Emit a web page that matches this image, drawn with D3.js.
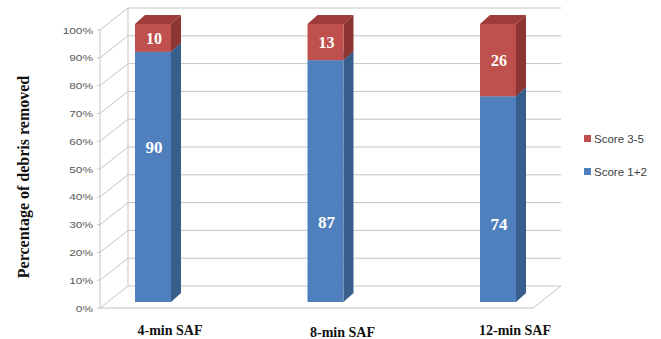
<!DOCTYPE html>
<html>
<head>
<meta charset="utf-8">
<script src="https://cdn.jsdelivr.net/npm/d3@7"></script>
<style>
  body { margin: 0; background: #fff; }
  svg { display: block; }
  .tick-label { font-family: "Liberation Sans", Arial, sans-serif; font-size: 9.5px; fill: #595959; }
  .cat-label { font-family: "Liberation Serif", "Times New Roman", serif; font-weight: bold; font-size: 14px; fill: #111; }
  .val-label { font-family: "Liberation Serif", "Times New Roman", serif; font-weight: bold; fill: #fff; }
  .legend-text { font-family: "Liberation Sans", Arial, sans-serif; font-size: 10.5px; fill: #404040; }
</style>
</head>
<body>
<script>
var categories = ["4-min SAF", "8-min SAF", "12-min SAF"];
var score12 = [90, 87, 74];
var score35 = [10, 13, 26];
var seriesNames = ["Score 1+2", "Score 3-5"];
var yTicks = [0, 10, 20, 30, 40, 50, 60, 70, 80, 90, 100];

var colors = {
  "Score 1+2": {front: "#4f7fbd", side: "#385e8c", top: "#6a93c9"},
  "Score 3-5": {front: "#c0504d", side: "#8c3533", top: "#9e3c3a"}
};
// where the white labels sit inside the blue segment (fraction of its height)
var blueLabelPos = [0.62, 0.33, 0.38];

var svg = d3.select("body").append("svg")
    .attr("width", 661)
    .attr("height", 339);

var y = d3.scaleLinear().domain([0, 100]).range([308, 30]);
var x = d3.scalePoint().domain(categories).range([153, 498]);

// depth of the 3d box and of the bars
var wallDx = 28, wallDy = -22;
var axisX = 100, floorRight = 533;
var barHalf = 18, barDx = 10, barDy = -9, barFrontDy = -6;

// back wall gridlines + side wall diagonals
var grid = svg.append("g").attr("stroke", "#c4c4c4").attr("stroke-width", 1).attr("fill", "none");
yTicks.forEach(function(t) {
  var yy = y(t);
  grid.append("path").attr("d", "M" + axisX + "," + yy + "L" + (axisX + wallDx) + "," + (yy + wallDy) +
      "L" + (floorRight + wallDx) + "," + (yy + wallDy));
  grid.append("line").attr("x1", axisX - 3).attr("x2", axisX).attr("y1", yy).attr("y2", yy);
});
grid.append("line").attr("x1", axisX + wallDx).attr("x2", axisX + wallDx)
    .attr("y1", y(100) + wallDy).attr("y2", y(0) + wallDy);
grid.append("line").attr("x1", axisX).attr("x2", axisX).attr("y1", y(100)).attr("y2", y(0));
// floor
grid.append("path").attr("d", "M" + axisX + "," + y(0) + "L" + floorRight + "," + y(0) +
    "L" + (floorRight + wallDx) + "," + (y(0) + wallDy));

// tick labels
svg.selectAll("text.tick-label")
    .data(yTicks)
    .enter().append("text")
    .attr("class", "tick-label")
    .attr("text-anchor", "end")
    .attr("transform", function(d) { return "translate(93," + (y(d) + 3.5) + ") scale(1.25,1)"; })
    .text(function(d) { return d + "%"; });

// y title
svg.append("text")
    .attr("class", "cat-label")
    .attr("transform", "translate(29,177) rotate(-90)")
    .attr("text-anchor", "middle")
    .style("font-size", "16px")
    .text("Percentage of debris removed");

// stacked data
var table = categories.map(function(c, i) {
  return {cat: c, "Score 1+2": score12[i], "Score 3-5": score35[i]};
});
var stack = d3.stack().keys(seriesNames)(table);

var bars = svg.append("g");
categories.forEach(function(c, i) {
  stack.forEach(function(s) {
    var d = s[i];
    var col = colors[s.key];
    var x0 = x(c) - barHalf, x1 = x(c) + barHalf;
    var yb = y(d[0]) + barFrontDy, yt = y(d[1]) + barFrontDy;
    var g = bars.append("g");
    g.append("path").attr("fill", col.side)
        .attr("d", "M" + x1 + "," + yb + "L" + (x1 + barDx) + "," + (yb + barDy) +
          "L" + (x1 + barDx) + "," + (yt + barDy) + "L" + x1 + "," + yt + "Z");
    g.append("path").attr("fill", col.top)
        .attr("d", "M" + x0 + "," + yt + "L" + (x0 + barDx) + "," + (yt + barDy) +
          "L" + (x1 + barDx) + "," + (yt + barDy) + "L" + x1 + "," + yt + "Z");
    g.append("rect").attr("fill", col.front)
        .attr("x", x0).attr("y", yt).attr("width", x1 - x0).attr("height", yb - yt);
  });
});

// value labels
stack.forEach(function(s) {
  svg.selectAll("text.val-" + s.index)
      .data(s)
      .enter().append("text")
      .attr("class", "val-label val-" + s.index)
      .attr("text-anchor", "middle")
      .style("font-size", s.key == "Score 1+2" ? "17px" : "16px")
      .attr("x", function(d, i) { return x(categories[i]) + 1; })
      .attr("y", function(d, i) {
        var f = s.key == "Score 1+2" ? blueLabelPos[i] : 0.5;
        return y(d[0] + (d[1] - d[0]) * f) + barFrontDy + 6;
      })
      .text(function(d) { return d[1] - d[0]; });
});

// category labels
var catY = [335, 336.5, 335];
svg.selectAll("text.cat")
    .data(categories)
    .enter().append("text")
    .attr("class", "cat-label cat")
    .attr("text-anchor", "middle")
    .attr("x", function(d) { return x(d) + 17; })
    .attr("y", function(d, i) { return catY[i]; })
    .text(function(d) { return d; });

// legend
var legend = svg.append("g").attr("transform", "translate(584,0)");
var legendItems = ["Score 3-5", "Score 1+2"];
legendItems.forEach(function(k, i) {
  var ly = 139 + i * 33;
  legend.append("rect").attr("x", 0).attr("y", ly - 4).attr("width", 7).attr("height", 7)
      .attr("fill", colors[k].front);
  legend.append("text").attr("class", "legend-text")
      .attr("transform", "translate(10," + (ly + 4) + ") scale(1.1,1)")
      .text(k);
});
</script>
</body>
</html>
